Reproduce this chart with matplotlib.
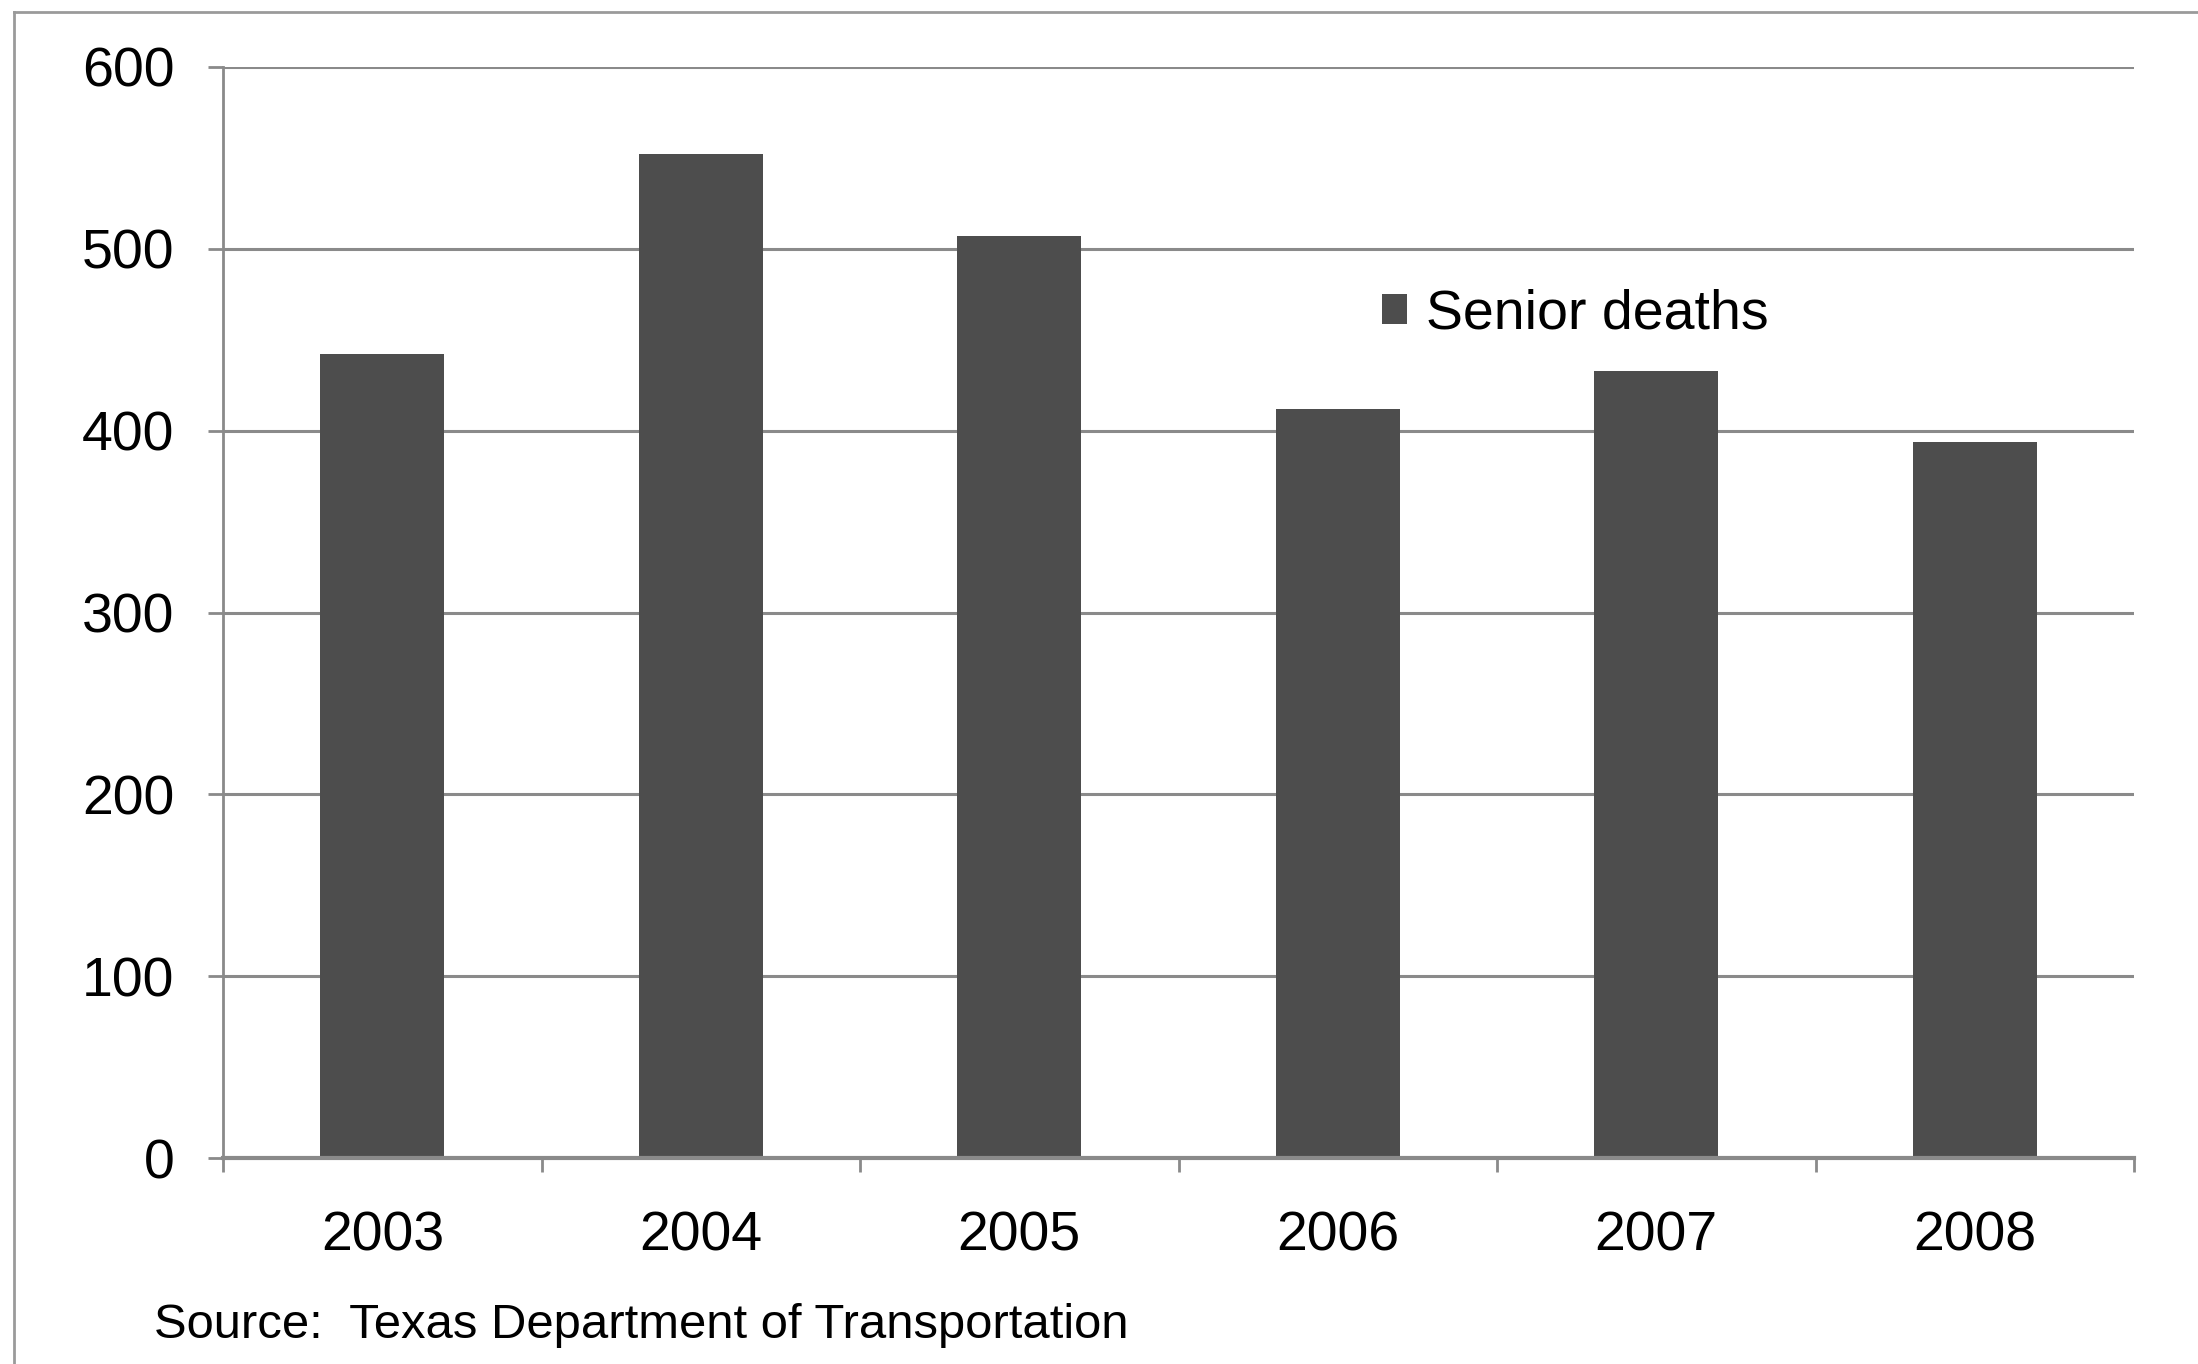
import matplotlib
matplotlib.use("Agg")
import matplotlib.pyplot as plt
from matplotlib.lines import Line2D
from matplotlib.patches import Patch
import numpy as np

plt.rcParams['font.family'] = ['Liberation Sans', 'DejaVu Sans']

years = ["2003", "2004", "2005", "2006", "2007", "2008"]
senior_deaths = [442, 552, 507, 412, 433, 394]
y_ticks = [0, 100, 200, 300, 400, 500, 600]
series_name = "Senior deaths"
source_note = "Source:  Texas Department of Transportation"

bar_color = "#4d4d4d"
grid_color = "#8a8a8a"

fig = plt.figure(figsize=(21.98, 13.64), dpi=100)
fig.patch.set_facecolor("white")
ax = fig.add_axes([0.1015, 0.151, 0.8694, 0.7999])

x = np.arange(len(years))
ax.bar(x, senior_deaths, width=0.39, color=bar_color, zorder=3)

ax.set_xlim(-0.5, len(years) - 0.5)
ax.set_ylim(0, 600)
ax.set_yticks(y_ticks)
ax.set_yticklabels([str(v) for v in y_ticks], fontsize=40)
ax.yaxis.grid(True, color=grid_color, linewidth=2.2, zorder=1)
ax.tick_params(axis='y', length=11, width=2, color=grid_color, pad=24)

# category labels at centres, tick marks at category boundaries
ax.set_xticks(x)
ax.set_xticklabels(years, fontsize=40)
ax.set_xticks(np.arange(-0.5, len(years)), minor=True)
ax.tick_params(axis='x', which='major', length=0, pad=38)
ax.tick_params(axis='x', which='minor', length=10, width=2, color=grid_color,
               direction='out')

for side in ("top", "right"):
    ax.spines[side].set_visible(False)
ax.spines["left"].set_color(grid_color)
ax.spines["left"].set_linewidth(2)
ax.spines["bottom"].set_color(grid_color)
ax.spines["bottom"].set_linewidth(3)
ax.spines["bottom"].set_zorder(4)

handle = Patch(facecolor=bar_color, edgecolor="none")
leg = ax.legend([handle], [series_name], loc="center left",
                bbox_to_anchor=(0.6062, 0.773), frameon=False, fontsize=40,
                handlelength=0.45, handleheight=0.45, handletextpad=0.35,
                borderpad=0, borderaxespad=0)

fig.text(154 / 2198, 1 - 1325 / 1364, source_note, fontsize=35.3,
         ha="left", va="center")

# outer chart frame
fig.add_artist(Line2D([14 / 2198, 14 / 2198], [0, 1 - 12 / 1364],
                      transform=fig.transFigure, color="#9a9a9a", linewidth=2))
fig.add_artist(Line2D([14 / 2198, 1], [1 - 12 / 1364, 1 - 12 / 1364],
                      transform=fig.transFigure, color="#9a9a9a", linewidth=2))

fig.savefig("out.png", dpi=100)
